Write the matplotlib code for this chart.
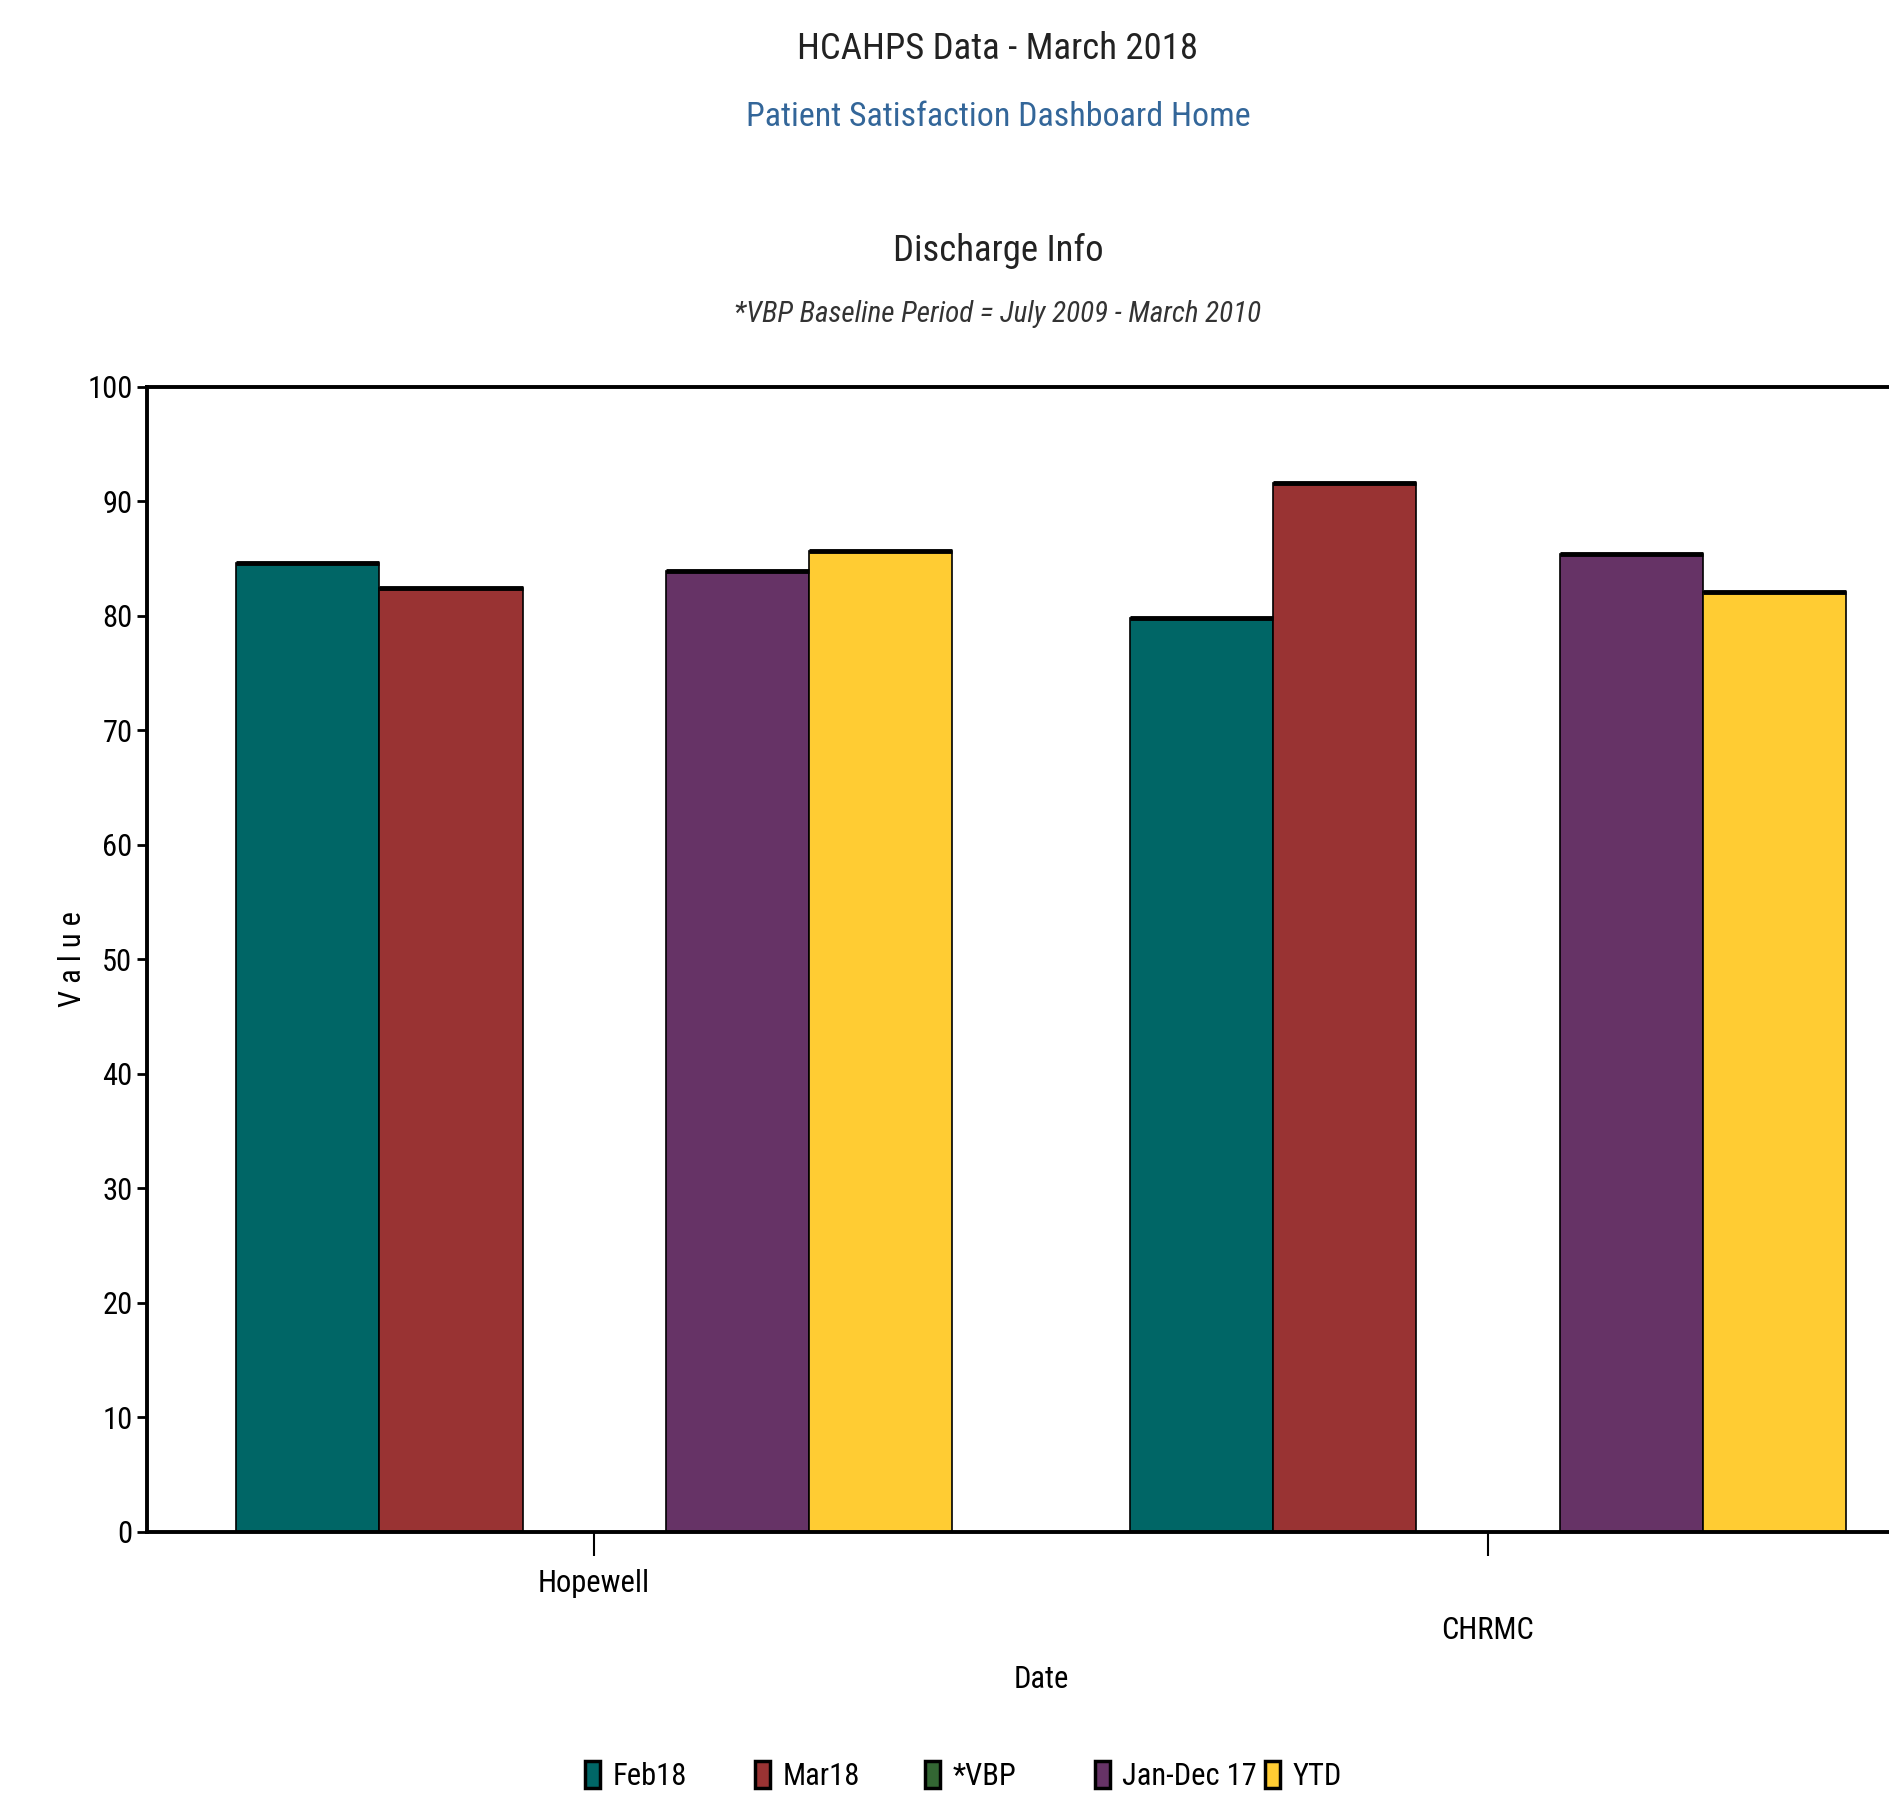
import matplotlib
matplotlib.use("Agg")
from matplotlib import pyplot as plt
from matplotlib.patches import Patch
from matplotlib.transforms import ScaledTranslation
import numpy as np

plt.rcParams['font.family'] = ['Roboto Condensed', 'DejaVu Sans']

hospitals = ['Hopewell', 'CHRMC']
series = ['Feb18', 'Mar18', '*VBP', 'Jan-Dec 17', 'YTD']
feb18 = [84.6, 79.8]
mar18 = [82.4, 91.6]
vbp = [np.nan, np.nan]
jan_dec17 = [83.9, 85.4]
ytd = [85.7, 82.1]
colors = ['#006666', '#993333', '#336633', '#663366', '#FFCC33']

fig = plt.figure(figsize=(18.9, 18.04), dpi=100)
ax = fig.add_axes([0.0778, 0.1508, 0.946, 0.6347])

x = np.arange(len(hospitals))
width = 0.16
values = [feb18, mar18, vbp, jan_dec17, ytd]
for i, (name, vals, col) in enumerate(zip(series, values, colors)):
    pos = x + (i - 2) * width
    ax.bar(pos, vals, width, color=col, edgecolor='black', linewidth=1.2, label=name)
    ax.hlines(vals, pos - width / 2, pos + width / 2, color='black', linewidth=3.5)

ax.set_xlim(-0.5, 1.5)
ax.set_ylim(0, 100)
ax.set_yticks(range(0, 101, 10))
ax.set_xticks(x)
ax.set_xticklabels(hospitals)
ax.tick_params(axis='y', labelsize=22, length=7, width=2, direction='out')
ax.tick_params(axis='x', labelsize=22, length=17, width=1.5, direction='out', pad=10)
for s in ['left', 'bottom', 'top']:
    ax.spines[s].set_linewidth(2.8)
ax.spines['right'].set_visible(False)

# second category label sits one row lower
lab = ax.get_xticklabels()[1]
lab.set_transform(lab.get_transform() + ScaledTranslation(0, -0.47, fig.dpi_scale_trans))

ax.set_xlabel('Date', fontsize=22, labelpad=14)
ax.set_ylabel('V a l u e', fontsize=22, labelpad=0)

fig.text(0.528, 0.973, 'HCAHPS Data - March 2018', ha='center', va='center',
         fontsize=26.5, color='#222222')
fig.text(0.528, 0.935, 'Patient Satisfaction Dashboard Home', ha='center', va='center',
         fontsize=24.5, color='#336699')
fig.text(0.528, 0.861, 'Discharge Info', ha='center', va='center',
         fontsize=26.5, color='#222222')
fig.text(0.528, 0.826, '*VBP Baseline Period = July 2009 - March 2010', ha='center',
         va='center', fontsize=21, style='italic', color='#333333')

# legend entries on a fixed grid, one small legend per series
for i, (name, col) in enumerate(zip(series, colors)):
    h = Patch(facecolor=col, edgecolor='black', linewidth=2.5)
    fig.legend(handles=[h], labels=[name], loc='center left',
               bbox_to_anchor=(0.3095 + i * 0.0899, 0.0155), frameon=False,
               fontsize=22, handlelength=0.5, handleheight=1.0, handletextpad=0.4,
               borderpad=0, borderaxespad=0)

plt.savefig('out.png', dpi=100)
